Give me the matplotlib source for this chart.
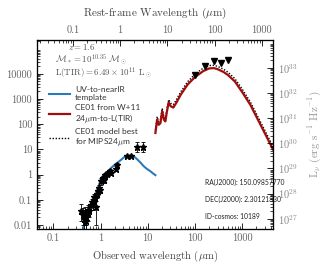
import numpy as np
import matplotlib
matplotlib.use("Agg")
import matplotlib.pyplot as plt
from matplotlib.ticker import FuncFormatter, FixedLocator

plt.rcParams.update({
    "font.family": "serif",
    "font.serif": ["cmr10"],
    "mathtext.fontset": "cm",
    "axes.unicode_minus": False,
    "axes.formatter.use_mathtext": True,
    "xtick.direction": "in",
    "ytick.direction": "in",
})

z = 1.6
lum_factor = 5.7e28  # flux -> L_nu

# UV-to-nearIR template (observed um, flux)
uv_wave = [0.43, 0.45, 0.48, 0.52, 0.56, 0.62, 0.71, 0.80, 0.91, 1.0, 1.1, 1.25,
           1.4, 1.7, 2.07, 2.6, 3.1, 3.8, 4.7, 5.4, 6.0, 7.0, 8.1, 9.5, 11.4, 13.0, 14.5]
uv_flux = [0.006, 0.012, 0.02, 0.028, 0.036, 0.055, 0.1, 0.18, 0.35, 0.62, 0.85, 1.1,
           1.3, 1.9, 2.6, 3.6, 4.8, 5.5, 5.6, 4.8, 4.0, 3.0, 2.2, 1.7, 1.35, 1.1, 0.95]

# CE01 from W+11 24um-to-L(TIR)
ce_wave = [14.5, 15.8, 17.0, 18.5, 20.2, 22.0, 23.6, 25.5, 27.8, 30.5, 34.8, 40, 50, 70,
           100, 150, 200, 250, 300, 400, 500, 700, 1000, 1500, 2000, 2800, 4500]
ce_flux = [45, 155, 95, 110, 330, 150, 130, 330, 730, 520, 460, 700, 1500, 3800,
           7500, 13000, 16500, 17000, 15500, 12000, 9000, 5000, 1900, 580, 200, 58, 10]

# CE01 model best for MIPS24um
best_wave = [14.5, 15.8, 17.0, 18.5, 20.2, 22.0, 23.6, 25.5, 27.8, 30.5, 34.8, 40, 50, 70,
             100, 150, 200, 250, 300, 400, 500, 700, 1000, 1500, 2000, 2800, 4500]
best_flux = [58, 200, 125, 145, 430, 195, 170, 430, 950, 680, 600, 910, 1950, 4900,
             9800, 17000, 21500, 22000, 20000, 15500, 11700, 6500, 2500, 750, 260, 75, 13]

# photometry
phot_wave = [0.38, 0.43, 0.45, 0.46, 0.48, 0.50, 0.53, 0.55, 0.57, 0.62, 0.65, 0.68,
             0.71, 0.74, 0.77, 0.78, 0.83, 0.87, 0.91, 0.98, 1.02, 1.10, 1.17, 1.25,
             1.35, 1.60, 1.65, 2.15, 2.25, 3.6, 4.5, 5.8, 8.0]
phot_flux = [0.035, 0.025, 0.018, 0.03, 0.014, 0.022, 0.03, 0.04, 0.035, 0.06, 0.08, 0.07,
             0.10, 0.13, 0.12, 0.05, 0.17, 0.22, 0.30, 0.25, 0.55, 0.70, 0.60, 0.95,
             1.1, 1.4, 1.2, 1.7, 2.4, 5.5, 5.5, 13, 13]
phot_elo = [0.02, 0.015, 0.012, 0.02, 0.008, 0.012, 0.015, 0.02, 0.015, 0.02, 0.025, 0.03,
            0.03, 0.04, 0.04, 0.04, 0.05, 0.06, 0.08, 0.07, 0.15, 0.15, 0.15, 0.2,
            0.2, 0.3, 0.25, 0.3, 0.4, 0.5, 0.5, 5, 5]
phot_ehi = [0.03, 0.02, 0.015, 0.02, 0.012, 0.015, 0.02, 0.02, 0.02, 0.03, 0.03, 0.03,
            0.04, 0.04, 0.05, 0.04, 0.06, 0.07, 0.1, 0.08, 0.15, 0.2, 0.15, 0.25,
            0.3, 0.3, 0.3, 0.4, 0.4, 0.5, 0.5, 6, 6]

# Herschel upper limits
lim_wave = [100, 160, 250, 350, 500]
lim_flux = [9400, 21000, 34000, 28000, 36000]

flux_ticks = [0.01, 0.1, 1, 10, 100, 1000, 10000]
lum_ticks = [1e27, 1e28, 1e29, 1e30, 1e31, 1e32, 1e33]

xlim = (0.045, 4500)
ylim = (0.0069, 2.2e5)

fig = plt.figure(figsize=(3.25, 2.71), dpi=100)
ax = fig.add_axes([0.114, 0.155, 0.726, 0.697])

ax.plot(best_wave, best_flux, color="k", ls=(0, (1, 1.2)), lw=1.0, zorder=3)
ax.plot(ce_wave, ce_flux, color="#a00d0d", lw=1.6, zorder=4)
ax.plot(uv_wave, uv_flux, color="#2b7bba", lw=1.5, zorder=2)
ax.errorbar(phot_wave, phot_flux, yerr=[phot_elo, phot_ehi], fmt="*", color="k",
            ms=5, elinewidth=0.6, capsize=1.5, capthick=0.6, zorder=5)
ax.plot(lim_wave, lim_flux, "v", color="k", ms=4.5, zorder=6)

ax.set_xscale("log")
ax.set_yscale("log")
ax.set_xlim(xlim)
ax.set_ylim(ylim)

tick_col = "#666666"
fmt = FuncFormatter(lambda v, _: "%g" % v)
ax.xaxis.set_major_formatter(fmt)
ax.yaxis.set_major_locator(FixedLocator(flux_ticks))
ax.yaxis.set_major_formatter(fmt)
ax.tick_params(which="both", labelsize=7.5, labelcolor=tick_col, top=False, right=False)
ax.tick_params(which="major", length=4, width=0.6)
ax.tick_params(which="minor", length=2, width=0.5)
ax.set_xlabel(r"Observed wavelength ($\mu$m)", fontsize=7.6, color="#444444", labelpad=4)

# top axis: rest-frame
axt = ax.twiny()
axt.set_xscale("log")
axt.set_xlim(xlim[0] / (1 + z), xlim[1] / (1 + z))
axt.xaxis.set_major_formatter(fmt)
axt.tick_params(which="both", labelsize=7.5, labelcolor=tick_col)
axt.tick_params(which="major", length=4, width=0.6)
axt.tick_params(which="minor", length=2, width=0.5)
axt.set_xlabel(r"Rest-frame Wavelength ($\mu$m)", fontsize=8, color="#444444", labelpad=7)

# right axis: luminosity
axr = ax.twinx()
axr.set_yscale("log")
axr.set_ylim(ylim[0] * lum_factor, ylim[1] * lum_factor)
axr.yaxis.set_major_locator(FixedLocator(lum_ticks))
axr.tick_params(which="both", labelsize=7.5, labelcolor="#888888")
axr.tick_params(which="major", length=4, width=0.6)
axr.tick_params(which="minor", length=2, width=0.5)
axr.set_ylabel(r"L$_\nu$ (erg s$^{-1}$ Hz$^{-1}$)", fontsize=8, color="#999999", labelpad=6)

for a in (ax, axt, axr):
    for s in a.spines.values():
        s.set_linewidth(0.8)

txt_col = "#555555"
ax.text(0.13, 0.945, r"$z = 1.6$", transform=ax.transAxes, fontsize=6.4, color=txt_col)
ax.text(0.075, 0.88, r"$\mathcal{M}_* = 10^{10.35}\ \mathcal{M}_\odot$",
        transform=ax.transAxes, fontsize=6.4, color=txt_col)
ax.text(0.075, 0.81, r"$\mathrm{L(TIR)} = 6.49 \times 10^{11}\ \mathrm{L}_\odot$",
        transform=ax.transAxes, fontsize=6.4, color=txt_col)

h1, = ax.plot([], [], color="#2b7bba", lw=1.5)
h2, = ax.plot([], [], color="#a00d0d", lw=1.6)
h3, = ax.plot([], [], color="k", ls=(0, (1, 1.2)), lw=1.0)
leg = ax.legend([h1, h2, h3],
                ["UV-to-nearIR\ntemplate", "CE01 from W+11\n24$\\mu$m-to-L(TIR)",
                 "CE01 model best\nfor MIPS24$\\mu$m"],
                loc="upper left", bbox_to_anchor=(0.02, 0.795), frameon=False,
                prop={"family": "Lato", "size": 6}, handlelength=2.5,
                labelspacing=0.3, handletextpad=0.6)
for t in leg.get_texts():
    t.set_color("#333333")
    t.set_linespacing(1.15)

for i, s in enumerate(["RA(J2000): 150.09857770", "DEC(J2000): 2.30121830",
                       "ID-cosmos: 10189"]):
    ax.text(0.712, 0.245 - i * 0.09, s, transform=ax.transAxes, fontsize=4.9,
            family="Lato", color="#222222", va="center")

fig.savefig("out.png", dpi=100)
